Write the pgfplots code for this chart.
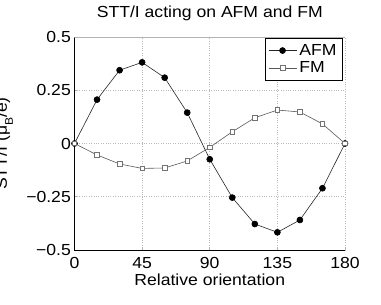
\documentclass[border=0pt]{standalone}
\usepackage{fontspec}
\setmainfont{Liberation Sans}[FakeStretch=1.1]
\usepackage{pgfplots}
\pgfplotsset{compat=1.18}
\newcommand\f{\fontsize{16}{19}\selectfont}
\begin{document}
\begin{tikzpicture}
\begin{axis}[
  at={(0,0)}, anchor=south west,
  scale only axis, width=270.5pt, height=213pt,
  xmin=0, xmax=180, ymin=-0.5, ymax=0.5,
  xtick={0,45,90,135,180}, xticklabels={0,45,90,135,180},
  ytick={-0.5,-0.25,0,0.25,0.5}, yticklabels={−0.5,−0.25,0,0.25,0.5},
  axis x line*=bottom, axis y line*=left,
  axis line style={black, line width=0.8pt, -},
  tick align=inside, major tick length=3pt,
  tick style={gray!60, line width=0.5pt},
  grid=major, major grid style={gray!55, dotted, line width=0.6pt},
  xticklabel style={font=\f, inner sep=0pt, anchor=north, yshift=-7pt},
  yticklabel style={font=\f, inner sep=0pt, anchor=east, xshift=-3.5pt},
  xlabel={Relative orientation},
  xlabel style={font=\f, at={(axis description cs:0.5,0)}, anchor=base, yshift=-36pt},
  title={STT/I acting on AFM and FM},
  title style={font=\f, at={(axis description cs:0.5,1)}, anchor=base, yshift=13.5pt},
  legend style={font=\f, at={(rel axis cs:1,1)}, anchor=north east, xshift=-2.7pt, yshift=-1pt,
    draw=black, line width=0.6pt, inner xsep=3pt, inner ysep=3.5pt,
    nodes={inner sep=2.5pt, text depth=0.15em}, legend cell align=left},
  legend image code/.code={\draw[mark repeat=2, mark phase=2] plot coordinates {(0pt,0pt) (14pt,0pt) (28pt,0pt)};},
]
\addplot[gray!30!black, line width=0.6pt, mark=*, mark size=3pt, mark options={black, fill=black}]
coordinates {(0,0) (15,0.206) (30,0.344) (45,0.381) (60,0.309) (75,0.145) (90,-0.074)
 (105,-0.254) (120,-0.378) (135,-0.417) (150,-0.359) (165,-0.210) (180,0)};
\addlegendentry{AFM}
\addplot[gray!70!black, line width=0.6pt, mark=square*, mark size=2.3pt, mark options={draw=gray!90!black, fill=white, line width=0.6pt}]
coordinates {(0,0) (15,-0.054) (30,-0.096) (45,-0.117) (60,-0.115) (75,-0.082) (90,-0.018)
 (105,0.055) (120,0.121) (135,0.157) (150,0.148) (165,0.092) (180,0)};
\addlegendentry{FM}
\draw[gray!60, line width=0.6pt] (rel axis cs:0,1) -- (rel axis cs:1,1);
\draw[gray!80!black, line width=0.8pt] (rel axis cs:1,0) -- (rel axis cs:1,1);
\end{axis}
\node[rotate=90, anchor=base, font=\f] at (-67.5pt,106.5pt) {STT/I (μ\raisebox{-6pt}{\fontsize{11}{11}\selectfont B}/e)};
\pgfresetboundingbox
\useasboundingbox (-74.5pt,-55pt) rectangle (306.5pt,250pt);
\end{tikzpicture}
\end{document}
